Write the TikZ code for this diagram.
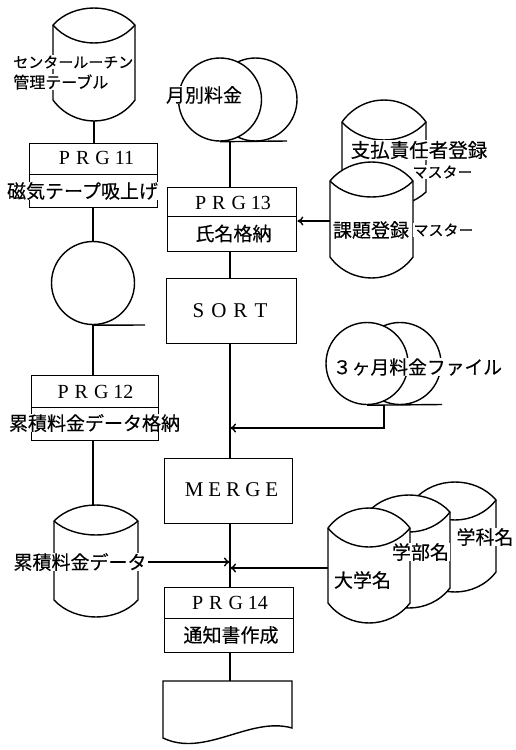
\documentclass[tikz,border=0pt]{standalone}
\usepackage{fontspec}
\setmainfont{Liberation Serif}
\newfontfamily\jp[FakeBold=0.3]{Noto Sans CJK JP}
\usetikzlibrary{arrows.meta}
\newcommand\dbcyl[7]{% x1 x2 ycorner yside dtop dlens dbot
  \draw[fill=white] (#1,#3) .. controls ({#1+0.25*(#2-#1)},{#3-1.333*#5}) and ({#2-0.25*(#2-#1)},{#3-1.333*#5}) .. (#2,#3)
    -- (#2,#4) .. controls ({#2-0.25*(#2-#1)},{#4+1.333*#7}) and ({#1+0.25*(#2-#1)},{#4+1.333*#7}) .. (#1,#4) -- cycle;
  \draw (#1,#3) .. controls ({#1+0.25*(#2-#1)},{#3+1.333*#6}) and ({#2-0.25*(#2-#1)},{#3+1.333*#6}) .. (#2,#3);
}
\begin{document}
\begin{tikzpicture}[x=1pt,y=-1pt,line width=1.4pt,
  jt/.style={font=\jp\fontsize{19}{19}\selectfont, fill=white, inner sep=0.6pt},
  jts/.style={font=\jp\fontsize{15}{15}\selectfont, fill=white, inner sep=0.6pt},
  lt/.style={font=\fontsize{20}{20}\selectfont, inner sep=0pt},
  ltb/.style={font=\fontsize{21}{21}\selectfont, inner sep=0pt},
  bx/.style={draw, fill=white, anchor=north west, inner sep=0pt},
  tape/.style={draw, circle, fill=white, minimum size=83pt, inner sep=0pt},
  arr/.style={-{To[length=6pt,width=9pt]}}
]
\useasboundingbox (0,0) rectangle (515,750);

% ---------- left column ----------
\dbcyl{53}{135}{25}{100}{17}{18}{21}
\coordinate (c1b) at (94,121);
\node[jts, anchor=west] (c1t1) at (12,62) {センタールーチン};
\node[jt, font=\jp\fontsize{16}{16}\selectfont, anchor=west] (c1t2) at (12,82) {管理テーブル};

\node[bx, minimum width=128pt, minimum height=31pt] (p11a) at (29,143) {};
\node[bx, minimum width=128pt, minimum height=33pt] (p11b) at (29,174) {};
\node[lt] (p11l) at (96.5,158) {P\hspace{6pt}R\hspace{6pt}G\hspace{5pt}11};
\node[jt] (p11t) at (82.5,191) {磁気テープ吸上げ};

\node[tape] (t1) at (93,283) {};
\coordinate (t1e) at (145,325);
\draw (t1.south) -- (t1e);

\node[bx, minimum width=127pt, minimum height=32pt] (p12a) at (31,375) {};
\node[bx, minimum width=127pt, minimum height=33pt] (p12b) at (31,407) {};
\node[lt] (p12l) at (95.5,392) {P\hspace{6pt}R\hspace{6pt}G\hspace{5pt}12};
\node[jt] (p12t) at (94.5,423) {累積料金データ格納};

\dbcyl{54}{138}{521}{600}{16}{14}{17}
\coordinate (c2t) at (93,505);
\node[jt] (c2l) at (80,562) {累積料金データ};

% ---------- middle column ----------
\node[tape] (m1b) at (255.5,99.5) {};
\node[tape] (m1) at (220,99.5) {};
\coordinate (m1o) at (230,141);
\coordinate (m1e) at (287,141);
\draw (m1.south) -- (m1e);
\node[jt] (m1l) at (204,95) {月別料金};

\node[bx, minimum width=129pt, minimum height=29pt] (p13a) at (167,187) {};
\node[bx, minimum width=129pt, minimum height=35pt] (p13b) at (167,216) {};
\node[lt] (p13l) at (233,203) {P\hspace{6pt}R\hspace{6pt}G\hspace{5pt}13};
\node[jt] (p13t) at (233.5,233.5) {氏名格納};

\node[bx, minimum width=130pt, minimum height=65pt] (sort) at (166,278) {};
\node[ltb] (sortl) at (230,311) {S\hspace{7pt}O\hspace{7pt}R\hspace{7pt}T};

\node[bx, minimum width=128pt, minimum height=65pt] (merge) at (164,458) {};
\node[ltb] (mergel) at (231.5,490) {M\hspace{5pt}E\hspace{5pt}R\hspace{5pt}G\hspace{5pt}E};

\node[bx, minimum width=129pt, minimum height=31pt] (p14a) at (164,587) {};
\node[bx, minimum width=129pt, minimum height=34pt] (p14b) at (164,618) {};
\node[lt] (p14l) at (230,603) {P\hspace{6pt}R\hspace{6pt}G\hspace{5pt}14};
\node[jt] (p14t) at (231,635) {通知書作成};

\draw[fill=white] (163,681) coordinate (dt) -- (292,681) -- (292,728)
  .. controls (250,716) and (205,758) .. (163,738) -- cycle;

% ---------- right side ----------
\dbcyl{342}{426}{122}{192}{22}{18}{15}
\dbcyl{330}{413}{181}{257}{19}{16}{21}
\node[jt, font=\jp\fontsize{19.5}{19.5}\selectfont] (s1) at (419,150) {支払責任者登録};
\node[jts] (s2) at (442.5,172) {マスター};
\node[jt] (k1) at (371,230) {課題登録};
\node[jts] (k2) at (443.5,230) {マスター};
\coordinate (kdl) at (330,221);

\node[tape, minimum size=82pt] (f3b) at (400,363.5) {};
\node[tape, minimum size=82pt] (f3) at (367,363.5) {};
\coordinate (f3e) at (442,404.5);
\draw (f3.south) -- (f3e);
\coordinate (f3o) at (384,404.5);
\coordinate (f3c) at (384,428);
\node[jt, font=\jp\fontsize{18.8}{18.8}\selectfont] (f3l) at (417.5,367) {３ヶ月料金ファイル};

\dbcyl{414}{496}{500}{572}{18}{20}{20}
\dbcyl{368}{450}{512}{588}{17}{20}{20}
\dbcyl{328}{410}{528}{603}{20}{19}{20}
\node[jt] (g3) at (485,537) {学科名};
\node[jt] (g2) at (420.5,552) {学部名};
\node[jt] (g1) at (362.5,580) {大学名};
\coordinate (dgl) at (328,568);

% ---------- connectors ----------
\draw (c1b) -- (c1b |- p11a.north);
\draw (p11b.south -| t1.north) -- (t1.north);
\draw (t1.south) -- (t1.south |- p12a.north);
\draw (p12b.south -| c2t) -- (c2t);

\draw (m1o) -- (m1o |- p13a.north);
\draw (m1o |- p13b.south) -- (m1o |- sort.north);
\draw (m1o |- sort.south) -- (m1o |- merge.north);
\draw (m1o |- merge.south) -- (m1o |- p14a.north);
\draw (m1o |- p14b.south) -- (m1o |- dt);

\draw[arr] (kdl) -- (kdl -| p13b.east);
\draw[arr] (f3o) -- (f3c) -- (f3c -| m1o);
\draw[arr] (c2l.east) -- (c2l.east -| m1o);
\draw[arr] (dgl) -- (dgl -| m1o);
\end{tikzpicture}
\end{document}
